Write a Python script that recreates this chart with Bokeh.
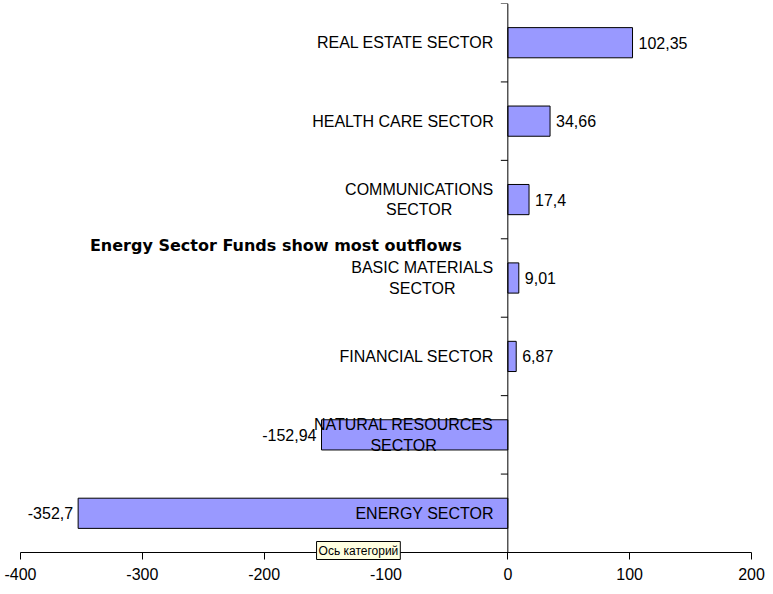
from bokeh.plotting import figure
from bokeh.models import ColumnDataSource, Range1d, Label, FixedTicker, CustomJSTickFormatter
from bokeh.core.properties import value
from bokeh.embed import file_html
from bokeh.resources import INLINE
import math

# ---- data (bottom to top) ----
categories = ["ENERGY SECTOR", "NATURAL RESOURCES\nSECTOR", "FINANCIAL SECTOR",
              "BASIC MATERIALS\nSECTOR", "COMMUNICATIONS\nSECTOR",
              "HEALTH CARE SECTOR", "REAL ESTATE SECTOR"]
values = [-352.7, -152.94, 6.87, 9.01, 17.4, 34.66, 102.35]
x_ticks = [-400, -300, -200, -100, 0, 100, 200]
title_text = "Energy Sector  Funds show most outflows"
axis_tooltip = "Ось категорий"

FONT = "Liberation Sans"
FS = 16
n = len(categories)
ys = list(range(n))

labels = [f"{v}".replace(".", ",") for v in values]
pos = [v >= 0 for v in values]

# approximate Liberation Sans (Arial metric) widths, per em
W = dict(A=.667, B=.667, C=.722, D=.722, E=.667, F=.611, G=.778, H=.722, I=.278, J=.5,
         K=.667, L=.556, M=.833, N=.722, O=.778, P=.667, Q=.778, R=.722, S=.667, T=.611,
         U=.722, V=.667, W=.944, X=.667, Y=.667, Z=.611)
W[" "] = .278


def text_w(s):
    return sum(W.get(ch, .6) for ch in s) * FS


# vertical: top 3px, category band 549px, then room below for the axis drawn inside the frame
band_px = 549.0
per_cat = band_px / n
extra_px = 38.0
y_lo = -0.5 - extra_px / per_cat

# horizontal: axis span 731px, with margins inside the frame so end tick labels are not clipped
span_px = 731.0
per_unit = span_px / (x_ticks[-1] - x_ticks[0])
left_px, right_px = 20.0, 18.0
x_lo = x_ticks[0] - left_px / per_unit
x_hi = x_ticks[-1] + right_px / per_unit

p = figure(output_backend="svg", toolbar_location=None,
           x_range=Range1d(x_lo, x_hi), y_range=Range1d(y_lo, n - 0.5),
           y_axis_location=None, frame_width=int(span_px + left_px + right_px),
           frame_height=int(band_px + extra_px),
           min_border_left=0, min_border_right=0, min_border_top=3, min_border_bottom=0)
p.outline_line_color = None
p.xgrid.visible = False
p.ygrid.visible = False
p.background_fill_color = "white"
p.border_fill_color = "white"

src = ColumnDataSource(dict(y=ys, v=values, cat=categories, lab=labels))
p.hbar(y="y", left=0, right="v", height=0.385, source=src,
       fill_color="#9999FF", line_color="black", line_width=1)

# vertical category axis at x = 0
p.segment(x0=[0], y0=[-0.5], x1=[0], y1=[n - 0.5], line_color="black", line_width=1)
bounds = [i + 0.5 for i in range(n)]
p.ray(x=[0] * len(bounds), y=bounds, length=7, length_units="screen",
      angle=math.pi, line_color="black", line_width=1)

# category labels
single = [(y, c) for y, c in zip(ys, categories) if "\n" not in c]
multi = [(y, c) for y, c in zip(ys, categories) if "\n" in c]
p.text(x=[0] * len(single), y=[s[0] for s in single], text=[s[1] for s in single],
       x_offset=-14, text_align="right", text_baseline="middle",
       text_font=value(FONT), text_font_size=f"{FS}px", text_color="black")
for y, c in multi:
    est_w = max(text_w(line) for line in c.split("\n"))
    p.text(x=[0], y=[y], text=[c], x_offset=-14 - est_w / 2,
           text_align="center", text_baseline="middle", text_line_height=1.2,
           text_font=value(FONT), text_font_size=f"{FS}px", text_color="black")

# value labels
pv = [(y, v, l) for y, v, l, ps in zip(ys, values, labels, pos) if ps]
nv = [(y, v, l) for y, v, l, ps in zip(ys, values, labels, pos) if not ps]
p.text(x=[a[1] for a in pv], y=[a[0] for a in pv], text=[a[2] for a in pv],
       x_offset=6, text_align="left", text_baseline="middle",
       text_font=value(FONT), text_font_size=f"{FS}px", text_color="black")
p.text(x=[a[1] for a in nv], y=[a[0] for a in nv], text=[a[2] for a in nv],
       x_offset=-5, text_align="right", text_baseline="middle",
       text_font=value(FONT), text_font_size=f"{FS}px", text_color="black")

# x axis, drawn at the bottom of the category band
p.xaxis.fixed_location = -0.5
p.xaxis.bounds = (x_ticks[0], x_ticks[-1])
p.xaxis.ticker = FixedTicker(ticks=x_ticks)
p.xaxis.formatter = CustomJSTickFormatter(code="return tick.toString();")
p.xaxis.minor_tick_line_color = None
p.xaxis.major_tick_out = 7
p.xaxis.major_tick_in = 0
p.xaxis.axis_line_color = "black"
p.xaxis.major_tick_line_color = "black"
p.xaxis.major_label_text_font = FONT
p.xaxis.major_label_text_font_size = f"{FS}px"
p.xaxis.major_label_text_color = "black"
p.xaxis.major_label_standoff = 8

# title annotation
p.add_layout(Label(x=-343, y=3.41, text=title_text, text_align="left", text_baseline="middle",
                   text_font="DejaVu Sans", text_font_style="bold", text_font_size="16px",
                   text_color="black"))

# tooltip box
p.add_layout(Label(x=-157, y=-0.5, y_offset=2, text=axis_tooltip, text_align="left",
                   text_baseline="middle",
                   text_font=FONT, text_font_size="12px", text_color="black",
                   background_fill_color="#FFFFE1", border_line_color="black",
                   border_line_width=1, padding=2, level="overlay"))

open("out.html", "w").write(file_html(p, INLINE))
